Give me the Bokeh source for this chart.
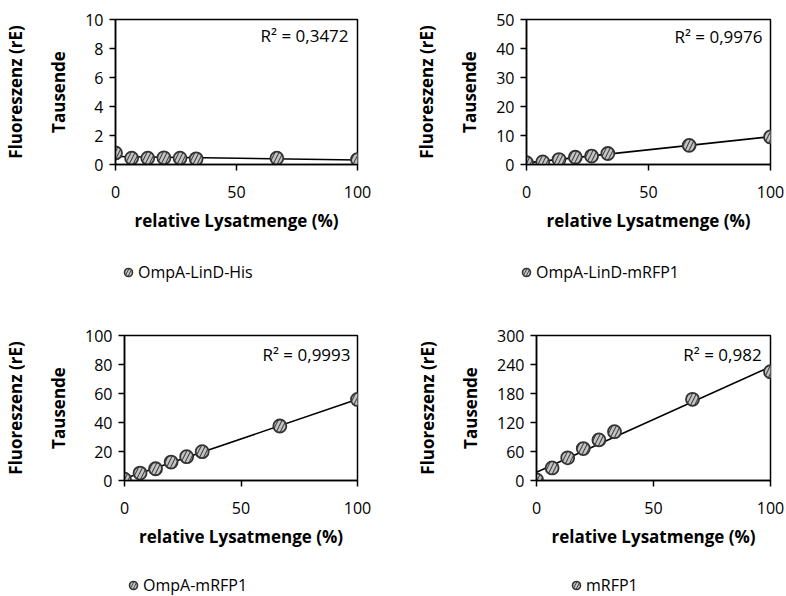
from bokeh.plotting import figure
from bokeh.models import Range1d, FixedTicker, LinearAxis, Label, Legend, LegendItem
from bokeh.layouts import column, row
from bokeh.embed import file_html
from bokeh.resources import INLINE
import numpy as np

# ---- data ----
x_pct = [0, 6.67, 13.33, 20, 26.67, 33.33, 66.67, 100]
y_ompa_lind_his = [0.80, 0.44, 0.44, 0.46, 0.44, 0.39, 0.44, 0.34]
y_ompa_lind_mrfp1 = [0.6, 0.9, 1.7, 2.5, 2.9, 3.8, 6.6, 9.5]
y_ompa_mrfp1 = [0.9, 5.1, 8.1, 12.7, 16.4, 19.9, 37.6, 55.9]
y_mrfp1 = [1.4, 26, 47, 66, 84, 101, 168, 225]

names = ["OmpA-LinD-His", "OmpA-LinD-mRFP1", "OmpA-mRFP1", "mRFP1"]
r2_texts = ["R² = 0,3472", "R² = 0,9976", "R² = 0,9993", "R² = 0,982"]
y_max = [10, 50, 100, 300]
y_step = [2, 10, 20, 60]
x_ticks = [0, 50, 100]

FONT = "Open Sans"
MARKER = dict(marker="circle", fill_color="#c4c4c4", line_color="#333333",
              hatch_pattern="/", hatch_color="#444444")
W = 393


def make(xs, ys, name, r2, ymax, ystep, frame_left, frame_right, frame_top, frame_bottom,
         plot_h, cell_h, r2_pos, leg_x, leg_y):
    p = figure(width=W, height=plot_h, output_backend="svg", toolbar_location=None,
               x_range=Range1d(0, 100), y_range=Range1d(0, ymax),
               min_border_left=frame_left, min_border_right=W - frame_right,
               min_border_top=frame_top, min_border_bottom=plot_h - frame_bottom)
    p.frame_align = False
    p.background_fill_color = "white"
    p.border_fill_color = "white"
    p.outline_line_color = "black"
    p.outline_line_width = 1.5
    p.xgrid.visible = False
    p.ygrid.visible = False

    for ax in (p.xaxis[0], p.yaxis[0]):
        ax.axis_line_color = "black"
        ax.axis_line_width = 1.5
        ax.major_tick_line_color = "black"
        ax.major_tick_line_width = 1.5
        ax.major_tick_in = 0
        ax.major_tick_out = 6
        ax.minor_tick_line_color = None
        ax.major_label_text_font = FONT
        ax.major_label_text_font_size = "16px"
        ax.major_label_text_color = "black"
        ax.axis_label_text_font = FONT
        ax.axis_label_text_font_size = "17px"
        ax.axis_label_text_font_style = "bold"
        ax.axis_label_text_color = "black"

    p.xaxis[0].ticker = FixedTicker(ticks=x_ticks)
    p.xaxis[0].axis_label = "relative Lysatmenge (%)"
    p.xaxis[0].major_label_standoff = 15
    p.xaxis[0].axis_label_standoff = 8

    p.yaxis[0].ticker = FixedTicker(ticks=list(range(0, ymax + 1, ystep)))
    p.yaxis[0].axis_label = "Tausende"
    p.yaxis[0].major_label_standoff = 6
    p.yaxis[0].axis_label_standoff = 12

    ax2 = LinearAxis(ticker=FixedTicker(ticks=[]), axis_label="Fluoreszenz (rE)",
                     axis_line_color=None, major_tick_line_color=None,
                     minor_tick_line_color=None, major_tick_out=0, major_tick_in=0,
                     major_label_standoff=0, major_label_text_font_size="0px",
                     axis_label_text_font=FONT, axis_label_text_font_size="17px",
                     axis_label_text_font_style="bold", axis_label_text_color="black",
                     axis_label_standoff=18)
    p.add_layout(ax2, "left")

    # trendline (linear least squares on the data)
    k, d = np.polyfit(np.array(xs), np.array(ys), 1)
    p.line([0, 100], [d, d + k * 100], line_color="black", line_width=1.6)

    p.scatter(xs, ys, size=13, line_width=1.8, hatch_scale=8, hatch_weight=1.1, **MARKER)

    p.add_layout(Label(x=r2_pos[0], y=r2_pos[1], text=r2, text_align="right",
                       text_baseline="middle", text_font=FONT, text_font_size="17px",
                       text_color="black"))

    # legend strip below the chart (its own full-width frame; series drawn off-view)
    lh = cell_h - plot_h
    lf = figure(width=W, height=lh, output_backend="svg", toolbar_location=None,
                x_range=Range1d(1000, 1001), y_range=Range1d(1000, 1001),
                x_axis_location=None, y_axis_location=None,
                min_border=0, min_border_left=0, min_border_right=0,
                min_border_top=0, min_border_bottom=0)
    lf.frame_align = False
    lf.outline_line_color = None
    lf.xgrid.visible = False
    lf.ygrid.visible = False
    lr = lf.scatter(xs, ys, size=13, line_width=1.6, hatch_scale=6,
                    hatch_weight=1.0, **MARKER)
    leg = Legend(items=[LegendItem(label=name, renderers=[lr])],
                 location=(leg_x, leg_y), padding=0, margin=0,
                 border_line_color=None, background_fill_alpha=0,
                 glyph_width=20, glyph_height=22, label_height=22,
                 label_standoff=0, label_text_font=FONT,
                 label_text_font_size="16px", label_text_color="black")
    lf.add_layout(leg)
    return column(p, lf)


c1 = make(x_pct, y_ompa_lind_his, names[0], r2_texts[0], y_max[0], y_step[0],
          112, 357, 19, 164, 242, 298, (96.3, 8.9), 118, 15)
c2 = make(x_pct, y_ompa_lind_mrfp1, names[1], r2_texts[1], y_max[1], y_step[1],
          133, 377, 19, 164, 242, 298, (96.7, 44.1), 123, 15)
c3 = make(x_pct, y_ompa_mrfp1, names[2], r2_texts[2], y_max[2], y_step[2],
          123, 357, 37, 182, 258, 298, (97, 86.9), 123, 0)
c4 = make(x_pct, y_mrfp1, names[3], r2_texts[3], y_max[3], y_step[3],
          143, 377, 37, 182, 258, 298, (96.2, 260.7), 173, 0)

layout = column(row(c1, c2), row(c3, c4))
open("out.html", "w").write(file_html(layout, INLINE))
